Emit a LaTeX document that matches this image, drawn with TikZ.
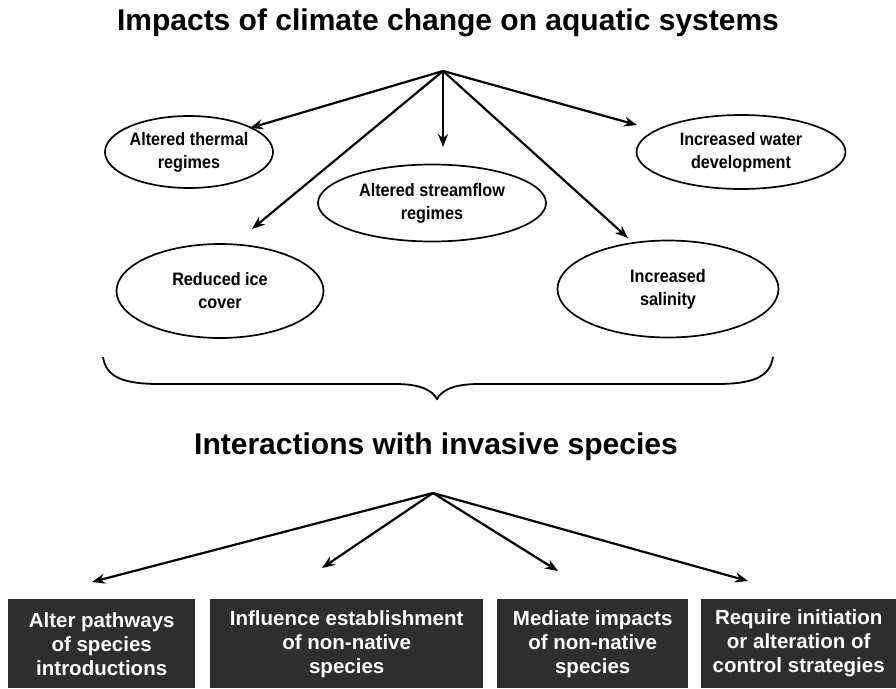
\documentclass[tikz,border=0pt]{standalone}
\usepackage{fontspec}
\setmainfont{Liberation Sans}
\newfontfamily\condfont[FakeStretch=0.9]{Liberation Sans}
\usetikzlibrary{shapes.geometric,arrows.meta}
\definecolor{boxgray}{HTML}{2E2E2E}
\tikzset{
  oval/.style={ellipse,draw=black,line width=1.7pt,inner sep=0pt,align=center,font=\condfont\bfseries\fontsize{18}{23}\selectfont},
  darkbox/.style={rectangle,fill=boxgray,inner sep=0pt,align=center,text=white,font=\bfseries\fontsize{20.5}{24}\selectfont,anchor=north west},
  arr/.style={line width=2.2pt,-{Stealth[length=13pt,width=10pt]}},
  heading/.style={font=\bfseries\fontsize{30}{34}\selectfont}
}
\begin{document}
\begin{tikzpicture}[x=1pt,y=-1pt]
\useasboundingbox (0,0) rectangle (896,688);
\node[heading] (t1) at (448,23) {Impacts of climate change on aquatic systems};
\coordinate (apex1) at (443,71);
\node[oval,minimum width=154pt,minimum height=72pt] (thermal) at (189,152) {Altered thermal\\regimes};
\node[oval,minimum width=209pt,minimum height=74pt] (water) at (741,152) {Increased water\\development};
\node[oval,minimum width=228pt,minimum height=77pt] (stream) at (432,203) {Altered streamflow\\regimes};
\node[oval,minimum width=207pt,minimum height=94pt] (ice) at (220,291) {Reduced ice\\cover};
\node[oval,minimum width=221pt,minimum height=97pt] (salin) at (668,289) {Increased\\salinity};
\coordinate (tthermal) at (250,128);
\coordinate (tice) at (252,229);
\coordinate (tstream) at (443,147);
\coordinate (tsalin) at (628,238);
\coordinate (twater) at (637,125);
\draw[arr] (apex1) -- (tthermal);
\draw[arr] (apex1) -- (tice);
\draw[arr] (apex1) -- (tstream);
\draw[arr] (apex1) -- (tsalin);
\draw[arr] (apex1) -- (twater);
% brace
\coordinate (bl) at (103,357);
\coordinate (br) at (773,357);
\coordinate (btip) at (437,399);
\draw[line width=1.8pt] (bl) .. controls (106,378) and (125,384) .. (160,384)
  -- (395,384) .. controls (420,384) and (432,390) .. (btip)
  .. controls (442,390) and (454,384) .. (479,384)
  -- (716,384) .. controls (751,384) and (770,378) .. (br);
\node[heading] (t2) at (436,447) {Interactions with invasive species};
\coordinate (apex2) at (433,493);
\node[darkbox,minimum width=187pt,minimum height=89pt] (b1) at (8,599) {Alter pathways\\of species\\introductions};
\node[darkbox,minimum width=273pt,minimum height=89pt] (b2) at (210,599) {Influence establishment\\of non-native\\species};
\node[darkbox,minimum width=191pt,minimum height=89pt] (b3) at (497,599) {Mediate impacts\\of non-native\\species};
\node[darkbox,minimum width=195pt,minimum height=89pt] (b4) at (701,599) {Require initiation\\or alteration of\\control strategies};
\coordinate (tb1) at (92,582);
\coordinate (tb2) at (322,568);
\coordinate (tb3) at (558,571);
\coordinate (tb4) at (748,581);
\draw[arr] (apex2) -- (tb1);
\draw[arr] (apex2) -- (tb2);
\draw[arr] (apex2) -- (tb3);
\draw[arr] (apex2) -- (tb4);
\end{tikzpicture}
\end{document}
